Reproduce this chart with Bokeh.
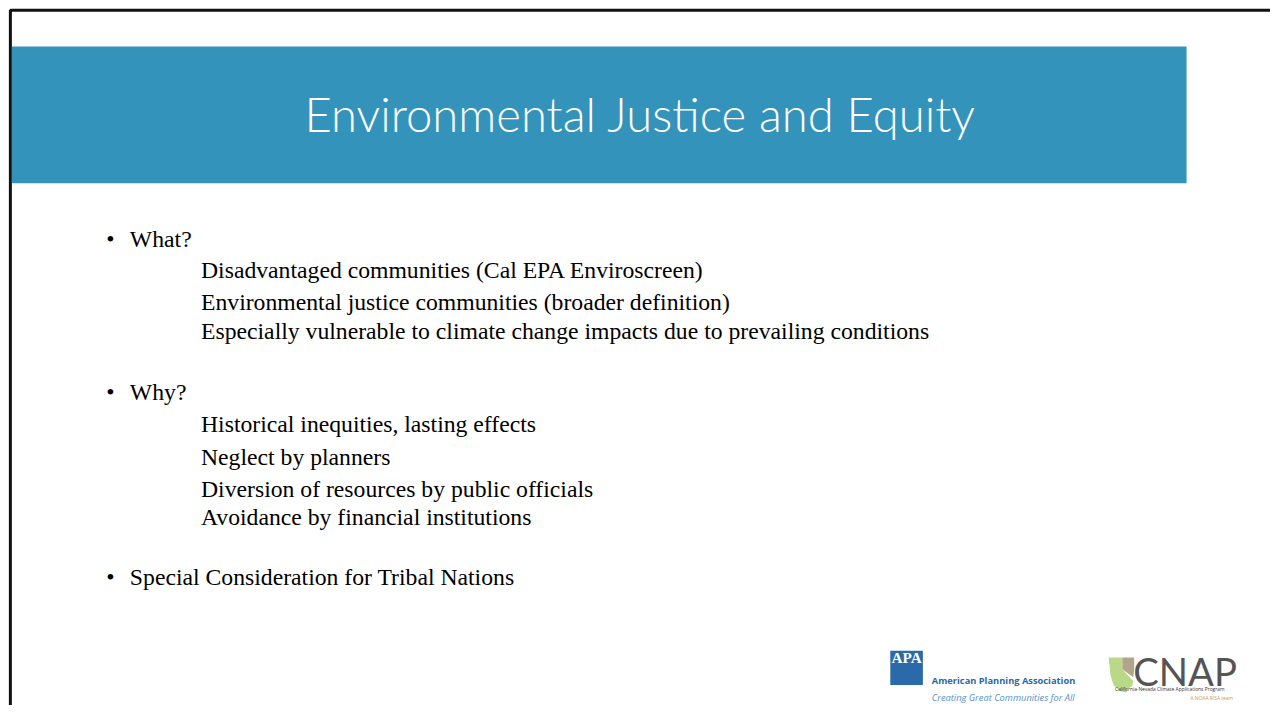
from bokeh.plotting import figure
from bokeh.models import Range1d
from bokeh.core.properties import value
from bokeh.embed import file_html
from bokeh.resources import INLINE

# ---- content ----
title_text = "Environmental Justice and Equity"
bullet_heads = ["What?", "Why?", "Special Consideration for Tribal Nations"]
what_items = [
    "Disadvantaged communities (Cal EPA Enviroscreen)",
    "Environmental justice communities (broader definition)",
    "Especially vulnerable to climate change impacts due to prevailing conditions",
]
why_items = [
    "Historical inequities, lasting effects",
    "Neglect by planners",
    "Diversion of resources by public officials",
    "Avoidance by financial institutions",
]
apa_lines = ["American Planning Association", "Creating Great Communities for All"]
cnap_lines = ["CNAP", "California-Nevada Climate Applications Program", "A NOAA RISA team"]

# ---- layout: data coords = reference slide pixels (1286 x 721) ----
W, H = 1270, 705
S = 0.983  # font scale from slide pixels to figure pixels


def fpx(v):
    return "%.1fpx" % (v * S)


p = figure(width=W, height=H, x_range=Range1d(0, 1286), y_range=Range1d(721, 0),
           output_backend="svg", toolbar_location=None, min_border=0)
p.axis.visible = False
p.grid.visible = False
p.outline_line_color = None
p.background_fill_color = "white"
p.border_fill_color = "white"

# slide border
p.line([10, 10, 1300], [740, 10, 10], line_color="#111111", line_width=3)

# title band
p.quad(left=11.5, right=1201, top=47, bottom=187, fill_color="#3493BA", line_color=None)
p.text(x=[648], y=[116], text=[title_text], text_color="white",
       text_font=value("'Lato Light', Lato"), text_font_size=fpx(48), text_align="center",
       text_baseline="middle")

serif = value("Liberation Serif")
fs = fpx(24.1)
head_y = [244, 400, 590]
for t, y in zip(bullet_heads, head_y):
    p.text(x=[107], y=[y], text=["\u2022"], text_font=serif, text_font_size=fs,
           text_baseline="middle", text_color="black")
    p.text(x=[131], y=[y], text=[t], text_font=serif, text_font_size=fs,
           text_baseline="middle", text_color="black")

what_y = [276, 308, 338]
why_y = [433, 467, 500, 528]
p.text(x=[203] * 3, y=what_y, text=what_items, text_font=serif, text_font_size=fs,
       text_baseline="middle", text_color="black")
p.text(x=[203] * 4, y=why_y, text=why_items, text_font=serif, text_font_size=fs,
       text_baseline="middle", text_color="black")

# APA logo
p.quad(left=901, right=934, top=665, bottom=700, fill_color="#2b6aa8", line_color=None)
p.text(x=[917.5], y=[671.5], text=["APA"], text_font=value("Liberation Serif"),
       text_font_style="bold", text_font_size=fpx(15.5), text_align="center",
       text_baseline="middle", text_color="white")
p.text(x=[943], y=[695], text=[apa_lines[0]], text_font=value("Open Sans"),
       text_font_style="bold", text_font_size=fpx(9.5), text_baseline="middle",
       text_color="#2d68a0")
p.text(x=[943], y=[713], text=[apa_lines[1]], text_font=value("Open Sans"),
       text_font_style="italic", text_font_size=fpx(9.5), text_baseline="middle",
       text_color="#5b8fc8")

# CNAP logo: state shapes
p.patch(x=[1122, 1136, 1136, 1147, 1146, 1141, 1140, 1133, 1127, 1124, 1123],
        y=[672, 672, 684, 696, 701, 704, 708, 706, 700, 690, 680],
        fill_color="#b9d989", line_color=None)
p.patch(x=[1136, 1148, 1148, 1147, 1136],
        y=[672, 672, 684, 692, 684],
        fill_color="#b3a58a", line_color=None)
p.text(x=[1147], y=[686], text=[cnap_lines[0]], text_font=value("Lato"),
       text_font_size=fpx(39), text_baseline="middle", text_color="#555555")
p.text(x=[1184], y=[704.5], text=[cnap_lines[1]], text_font=value("Open Sans"),
       text_font_size=fpx(5), text_align="center", text_baseline="middle", text_color="#333333")
p.text(x=[1248], y=[713], text=[cnap_lines[2]], text_font=value("Open Sans"),
       text_font_size=fpx(5), text_align="right", text_baseline="middle", text_color="#c9955a")

open("out.html", "w").write(file_html(p, INLINE))
